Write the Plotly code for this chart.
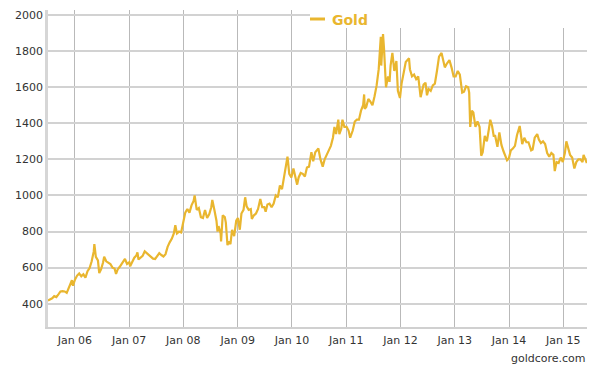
import plotly.graph_objects as go

dates = [
"2005-07-04","2005-07-18","2005-08-01","2005-08-15","2005-08-29","2005-09-12","2005-09-26","2005-10-10","2005-10-24","2005-11-07","2005-11-21","2005-12-05","2005-12-12","2005-12-19",
"2006-01-02","2006-01-16","2006-01-30","2006-02-13","2006-02-27","2006-03-13","2006-03-27","2006-04-10","2006-04-24","2006-05-08","2006-05-12","2006-05-22","2006-06-05","2006-06-14","2006-06-26","2006-07-10","2006-07-17","2006-07-31","2006-08-14","2006-08-28","2006-09-11","2006-09-25","2006-10-05","2006-10-16","2006-10-30","2006-11-13","2006-11-27","2006-12-04","2006-12-18",
"2007-01-02","2007-01-08","2007-01-22","2007-02-05","2007-02-19","2007-02-26","2007-03-05","2007-03-19","2007-04-02","2007-04-16","2007-04-30","2007-05-14","2007-05-28","2007-06-11","2007-06-25","2007-07-09","2007-07-23","2007-08-06","2007-08-20","2007-09-03","2007-09-17","2007-10-01","2007-10-15","2007-10-29","2007-11-08","2007-11-19","2007-12-03","2007-12-17",
"2008-01-02","2008-01-14","2008-01-28","2008-02-11","2008-02-25","2008-03-10","2008-03-17","2008-03-31","2008-04-14","2008-04-28","2008-05-12","2008-05-26","2008-06-09","2008-06-23","2008-07-07","2008-07-14","2008-07-28","2008-08-11","2008-08-18","2008-08-25","2008-09-08","2008-09-11","2008-09-22","2008-10-06","2008-10-13","2008-10-24","2008-11-03","2008-11-13","2008-11-24","2008-12-08","2008-12-22",
"2009-01-02","2009-01-15","2009-01-26","2009-02-09","2009-02-20","2009-03-02","2009-03-16","2009-03-30","2009-04-06","2009-04-20","2009-05-04","2009-05-18","2009-06-02","2009-06-15","2009-06-29","2009-07-08","2009-07-20","2009-08-03","2009-08-17","2009-08-31","2009-09-14","2009-09-28","2009-10-12","2009-10-26","2009-11-09","2009-11-23","2009-12-02","2009-12-14","2009-12-28",
"2010-01-11","2010-01-25","2010-02-05","2010-02-15","2010-03-01","2010-03-15","2010-03-29","2010-04-12","2010-04-26","2010-05-12","2010-05-24","2010-06-07","2010-06-21","2010-06-28","2010-07-12","2010-07-27","2010-08-09","2010-08-23","2010-09-06","2010-09-20","2010-10-04","2010-10-14","2010-10-25","2010-11-09","2010-11-16","2010-11-29","2010-12-07","2010-12-20",
"2011-01-04","2011-01-17","2011-01-28","2011-02-14","2011-02-28","2011-03-14","2011-03-28","2011-04-11","2011-04-25","2011-05-02","2011-05-06","2011-05-16","2011-05-30","2011-06-13","2011-06-27","2011-07-11","2011-07-25","2011-08-08","2011-08-22","2011-08-25","2011-09-06","2011-09-13","2011-09-26","2011-10-10","2011-10-20","2011-10-27","2011-11-08","2011-11-21","2011-12-05","2011-12-15","2011-12-29",
"2012-01-09","2012-01-23","2012-02-06","2012-02-28","2012-03-05","2012-03-19","2012-04-02","2012-04-16","2012-04-30","2012-05-16","2012-05-28","2012-06-05","2012-06-18","2012-06-28","2012-07-09","2012-07-23","2012-08-06","2012-08-20","2012-09-03","2012-09-17","2012-10-04","2012-10-15","2012-10-26","2012-11-08","2012-11-26","2012-12-10","2012-12-24",
"2013-01-07","2013-01-21","2013-02-04","2013-02-20","2013-03-04","2013-03-18","2013-04-01","2013-04-08","2013-04-15","2013-04-26","2013-05-06","2013-05-20","2013-06-03","2013-06-17","2013-06-28","2013-07-08","2013-07-22","2013-08-05","2013-08-19","2013-08-28","2013-09-09","2013-09-20","2013-09-30","2013-10-15","2013-10-28","2013-11-11","2013-11-25","2013-12-06","2013-12-19","2013-12-31",
"2014-01-13","2014-01-27","2014-02-10","2014-02-24","2014-03-14","2014-03-31","2014-04-14","2014-04-28","2014-05-12","2014-05-30","2014-06-09","2014-06-23","2014-07-10","2014-07-21","2014-08-04","2014-08-18","2014-09-01","2014-09-15","2014-09-29","2014-10-13","2014-10-27","2014-11-05","2014-11-17","2014-12-01","2014-12-15","2014-12-29",
"2015-01-12","2015-01-22","2015-02-02","2015-02-16","2015-03-02","2015-03-17","2015-03-30","2015-04-13","2015-04-27","2015-05-11","2015-05-18","2015-06-01","2015-06-09",
]

gold = [
418,422,430,442,437,452,468,470,468,460,490,510,530,500,
535,556,568,552,563,545,580,598,635,690,730,660,640,570,590,630,660,635,625,620,600,595,565,590,605,625,640,648,620,
630,608,630,655,668,685,645,655,665,690,680,668,655,650,648,662,680,670,662,675,715,740,760,790,835,790,800,795,
860,905,925,905,945,970,1000,920,930,880,875,920,875,895,935,975,920,860,800,830,790,745,890,880,850,725,745,730,810,775,860,
875,810,900,920,990,940,920,925,870,890,900,925,980,935,935,910,950,955,935,955,1000,990,1055,1035,1100,1165,1215,1120,1100,
1150,1095,1060,1100,1125,1120,1105,1155,1160,1240,1190,1240,1250,1260,1200,1160,1200,1230,1250,1275,1320,1380,1340,1420,1340,1370,1420,1380,
1380,1360,1320,1360,1410,1420,1420,1470,1500,1560,1480,1490,1535,1520,1500,1550,1610,1700,1880,1720,1895,1810,1600,1660,1630,1720,1790,1690,1745,1580,1540,
1620,1680,1740,1760,1700,1660,1670,1645,1660,1545,1580,1615,1625,1555,1590,1580,1610,1620,1690,1770,1790,1740,1710,1730,1750,1710,1660,
1660,1690,1670,1570,1575,1605,1600,1570,1380,1470,1460,1380,1410,1380,1220,1240,1330,1300,1370,1420,1385,1330,1330,1270,1350,1280,1245,1220,1195,1205,
1250,1260,1275,1335,1385,1285,1320,1295,1295,1250,1255,1320,1340,1310,1290,1300,1285,1235,1215,1235,1225,1135,1185,1180,1210,1185,
1235,1300,1270,1225,1210,1150,1185,1200,1200,1185,1225,1190,1180,
]

y_ticks = [400, 600, 800, 1000, 1200, 1400, 1600, 1800, 2000]
series_name = "Gold"
source_text = "goldcore.com"

GOLD = "#E9B62F"
FONT = "DejaVu Sans"

fig = go.Figure()
fig.add_trace(go.Scatter(
    x=dates, y=gold, mode="lines", name=series_name,
    line=dict(color=GOLD, width=2.2), showlegend=False,
))

# plot area in pixels: left 48, right 587, top 10, bottom 327
W, H = 605, 370
L, R, T, B = 48, 18, 10, 43
pw, ph = W - L - R, H - T - B

def px(xp):
    return (xp - L) / pw

def py(yp):
    return (H - B - yp) / ph

fig.update_layout(
    width=W, height=H,
    margin=dict(l=L, r=R, t=T, b=B),
    paper_bgcolor="white", plot_bgcolor="white",
    font=dict(family=FONT, size=11, color="#333333"),
    xaxis=dict(
        type="date",
        range=["2005-07-04", "2015-06-10"],
        tick0="2006-01-01", dtick="M12", tickformat="%b %y",
        showgrid=True, gridcolor="#b9b9b9", gridwidth=1,
        showline=True, linecolor="#d0d0d0", linewidth=2,
        ticks="", ticklabelstandoff=2,
        zeroline=False,
    ),
    yaxis=dict(
        range=[271, 2028],
        tickvals=y_ticks,
        showgrid=True, gridcolor="#d2d2d2", gridwidth=1.5,
        showline=True, linecolor="#d6d6d6", linewidth=2.5,
        ticks="", zeroline=False,
    ),
    shapes=[
        dict(type="rect", xref="paper", yref="paper",
             x0=px(310), x1=px(587), y0=py(28), y1=1.0,
             fillcolor="white", line=dict(width=0), layer="above"),
        dict(type="line", xref="paper", yref="paper",
             x0=px(310), x1=px(325), y0=py(19), y1=py(19),
             line=dict(color=GOLD, width=3), layer="above"),
    ],
    annotations=[
        dict(text="<b>" + series_name + "</b>", xref="paper", yref="paper",
             x=px(330), y=py(19.5), xanchor="left", yanchor="middle",
             showarrow=False, font=dict(family=FONT, size=14, color=GOLD)),
        dict(text=source_text, xref="paper", yref="paper",
             x=px(588), y=py(358), xanchor="right", yanchor="middle",
             showarrow=False, font=dict(family=FONT, size=11, color="#333333")),
    ],
)

fig.write_html(
    "out.html",
    config={"displayModeBar": False},
    post_script="document.body.style.margin='0';document.body.style.overflow='hidden';",
)
